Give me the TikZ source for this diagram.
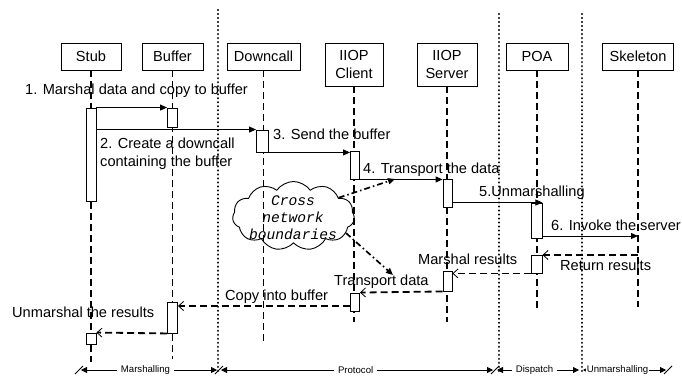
\documentclass[tikz,border=0pt]{standalone}
\usepackage{fontspec}
\setmainfont{Liberation Sans}
\setmonofont{Liberation Mono}
\usetikzlibrary{arrows.meta,shapes.symbols,calc}
\begin{document}
\begin{tikzpicture}[x=1pt,y=-1pt,
  every node/.style={font=\fontsize{14.6}{18}\selectfont, inner sep=0pt},
  head/.style={draw, line width=0.9pt, minimum height=27pt, align=center},
  head2/.style={head, minimum height=43pt},
  act/.style={draw, line width=0.9pt, fill=white, minimum width=10pt},
  life/.style={line width=1.8pt, dash pattern=on 7pt off 4pt},
  sep/.style={line width=2.4pt, line cap=round, dash pattern=on 0.01pt off 4pt},
  msg/.style={line width=0.9pt, -{Triangle[length=7pt,width=6pt]}},
  ret/.style={line width=1.8pt, dash pattern=on 7pt off 4pt, -{Straight Barb[length=5pt,width=9pt,line width=0.8pt]}},
  cloudarrow/.style={line width=1.7pt, dash pattern=on 6pt off 3pt on 1.5pt off 3pt, -{Triangle[length=7pt,width=6pt]}},
  lbl/.style={anchor=west},
  span/.style={line width=0.8pt, {Triangle[length=6pt,width=6pt]}-{Triangle[length=6pt,width=6pt]}, shorten <=2pt, shorten >=2pt},
  spanlbl/.style={fill=white, inner xsep=4pt, inner ysep=2pt, font=\fontsize{9.6}{11}\selectfont},
  tick/.style={line width=0.9pt},
  cloudtext/.style={align=center, font=\fontsize{14.6}{17}\selectfont\ttfamily\itshape}
]
\useasboundingbox (0,0) rectangle (682,377);

% separators
\coordinate (s1t) at (218,10);  \coordinate (s1b) at (218,372);
\coordinate (s2t) at (499,14);  \coordinate (s2b) at (499,372);
\coordinate (s3t) at (582,14);  \coordinate (s3b) at (582,372);
\draw[sep] (s1t) -- (s1b);
\draw[sep] (s2t) -- (s2b);
\draw[sep] (s3t) -- (s3b);

% heads
\node[head, minimum width=60pt] (stub) at (91,56.5) {Stub};
\node[head, minimum width=61pt] (buf) at (172.5,56.5) {Buffer};
\node[head, minimum width=73pt] (down) at (263.5,56.5) {Downcall};
\node[head2, minimum width=58pt] (cli) at (354,64.5) {IIOP\\Client};
\node[head2, minimum width=60pt] (srv) at (447,64.5) {IIOP\\Server};
\node[head, minimum width=62pt] (poa) at (537,56.5) {POA};
\node[head, minimum width=71pt] (skel) at (638,56.5) {Skeleton};

% lifeline ends
\coordinate (lstub) at (91,362);
\coordinate (lbuf) at (172.5,359);
\coordinate (ldown) at (263.5,341);
\coordinate (lcli) at (354,322);
\coordinate (lsrv) at (447,322);
\coordinate (lpoa) at (537,312);
\coordinate (lskel) at (638,307);
\draw[life] (stub.south) -- (lstub);
\draw[life] (buf.south) -- (lbuf);
\draw[life] (down.south) -- (ldown);
\draw[life] (cli.south) -- (lcli);
\draw[life] (srv.south) -- (lsrv);
\draw[life] (poa.south) -- (lpoa);
\draw[life] (skel.south) -- (lskel);

% activations
\node[act, minimum height=93pt] (sa1) at (91,154.5) {};
\node[act, minimum height=19pt] (ba1) at (172.5,117.5) {};
\node[act, minimum height=22pt, minimum width=12pt] (da1) at (262.5,141) {};
\node[act, minimum height=28pt, minimum width=9pt] (ca1) at (355,165) {};
\node[act, minimum height=28pt, minimum width=9pt] (sv1) at (447.5,193) {};
\node[act, minimum height=35pt, minimum width=11pt] (pa1) at (536.5,220.5) {};
\node[act, minimum height=18pt, minimum width=11pt] (pa2) at (536.5,264) {};
\node[act, minimum height=20pt, minimum width=9pt] (sv2) at (447.5,281) {};
\node[act, minimum height=18pt, minimum width=9pt] (ca2) at (355,302) {};
\node[act, minimum height=31pt] (ba2) at (172.5,317.5) {};
\node[act, minimum height=11pt] (sa2) at (91,338.5) {};

% forward messages
\draw[msg] (sa1.east |- ba1.north) -- (ba1.north west);
\draw[msg] (sa1.east |- da1.north) -- (da1.north west);
\draw[msg] (da1.south east) -- (ca1.west |- da1.south);
\draw[msg] (ca1.south east) -- (sv1.west |- ca1.south);
\draw[msg] (sv1.east |- pa1.north) -- (pa1.north east);
\coordinate (m6) at (638,236);
\draw[msg] (pa1.east |- m6) -- (m6);

% return messages
\coordinate (r1) at (638,255);
\draw[ret] (r1) -- (pa2.east |- r1);
\draw[ret] (pa2.south west) -- (sv2.east |- pa2.south);
\draw[ret] (sv2.south west) -- (ca2.north east);
\coordinate (r4) at (355,306);
\draw[ret] (ca2.west |- r4) -- (ba2.east |- r4);
\draw[ret] (ba2.south west) -- (sa2.north east);

% labels
\node[lbl] (l1) at (25,91) {1. Marshal data and copy to buffer};
\node[lbl, align=left] (l2) at (100,154) {2. Create a downcall\\containing the buffer};
\node[lbl] (l3) at (273,134) {3. Send the buffer};
\node[lbl] (l4) at (363,170) {4. Transport the data};
\node[lbl] (l5) at (479,193) {5.Unmarshalling};
\node[lbl] (l6) at (551,225) {6. Invoke the server};
\node[lbl] (l7) at (418,259) {Marshal results};
\node[lbl] (l8) at (560,265) {Return results};
\node[lbl] (l9) at (334,282) {Transport data};
\node[lbl] (l10) at (225,297) {Copy into buffer};
\node[lbl] (l11) at (12,312) {Unmarshal the results};

% cloud
\node[cloud, draw, line width=0.9pt, cloud puffs=11, cloud puff arc=110, aspect=1.8,
      minimum width=122pt, minimum height=69pt] (cl) at (293.5,216) {};
\node[cloudtext] (clt) at (293,218) {Cross\\network\\boundaries};
\coordinate (t1) at (395,179);
\coordinate (t2) at (393,275);
\draw[cloudarrow] (cl.22) -- (t1);
\draw[cloudarrow] (cl.-18) -- (t2);

% bottom spans
\coordinate (b0) at (79,370);
\coordinate (b1) at (219,370);
\coordinate (b2) at (495,370);
\coordinate (b3) at (581,370);
\coordinate (b4) at (668,370);
\draw[span] (b0) -- (b1) node[spanlbl, pos=0.475] (n1) {Marshalling};
\draw[span] (b1) -- (b2) node[spanlbl, pos=0.495] (n2) {Protocol};
\draw[span] (b2) -- (b3) node[spanlbl, pos=0.46] (n3) {Dispatch};
\draw[span] (b3) -- (b4) node[spanlbl, pos=0.42, inner xsep=1pt] (n4) {Unmarshalling};
\foreach \b in {b0,b1,b2,b4}{
  \draw[tick] ($(\b)+(-4,4)$) -- ($(\b)+(4,-4)$);
}
\end{tikzpicture}
\end{document}
